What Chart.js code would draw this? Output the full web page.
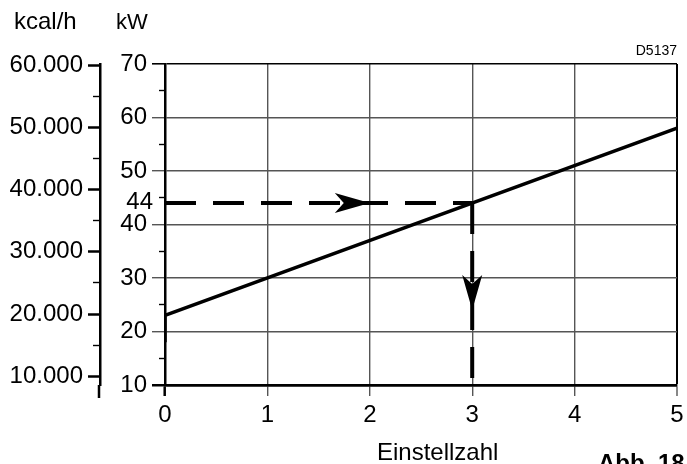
<!DOCTYPE html>
<html lang="de">
<head>
<meta charset="UTF-8">
<title>Einstellzahl</title>
<script src="https://cdn.jsdelivr.net/npm/chart.js@4.4.1/dist/chart.umd.js"></script>
<style>
  html, body { margin: 0; padding: 0; background: #fff; }
  canvas { display: block; }
</style>
</head>
<body>
<canvas id="chart" width="687" height="464"></canvas>
<script>
// kennlinie: einstellzahl -> leistung in kW
const settingNumbers = [0, 0, 5];
const outputKw = [18, 23, 58];

// ablesebeispiel (gestrichelt)
const readoutX = [0, 3];
const readoutY = [44, 44];
const dropX = [3, 3];
const dropY = [44, 10];
const arrowX = [2, 3];
const arrowY = [44, 24];
const arrowDir = ['right', 'down'];

// achsen
const xTicks = [0, 1, 2, 3, 4, 5];
const kwTicks = [10, 20, 30, 40, 50, 60, 70];
const kwMinorTicks = [15, 25, 35, 45, 55, 65];
const kwMarked = 44;
const kcalTicks = [10000, 20000, 30000, 40000, 50000, 60000];
const kcalMinorTicks = [15000, 25000, 35000, 45000, 55000];
const KCAL_PER_KW = 860;
const KW_MIN = 10, KW_MAX = 70;

const FONT = '"Liberation Sans", Arial, sans-serif';
Chart.defaults.font.family = FONT;
Chart.defaults.color = '#000';

const toPoints = (xs, ys) => xs.map((x, i) => ({ x: x, y: ys[i] }));
const tickList = vals => vals.map(v => ({ value: v }));
const fixWidth = w => scale => { scale.width = w; };

const extras = {
  id: 'extras',
  afterDatasetsDraw(chart) {
    const ctx = chart.ctx;
    const x = chart.scales.x, y = chart.scales.y;
    const kcal = chart.scales.kcal;
    ctx.save();
    ctx.fillStyle = '#000';
    ctx.strokeStyle = '#000';

    // pfeilspitzen
    arrowX.forEach((ax, i) => {
      const px = x.getPixelForValue(ax), py = y.getPixelForValue(arrowY[i]);
      ctx.beginPath();
      if (arrowDir[i] === 'right') {
        ctx.moveTo(px, py);
        ctx.lineTo(px - 35, py - 10);
        ctx.lineTo(px - 26, py);
        ctx.lineTo(px - 35, py + 10);
      } else {
        ctx.moveTo(px, py);
        ctx.lineTo(px - 10, py - 35);
        ctx.lineTo(px, py - 26);
        ctx.lineTo(px + 10, py - 35);
      }
      ctx.closePath();
      ctx.fill();
    });

    // kcal achse etwas nach unten verlaengern
    ctx.lineWidth = 2.5;
    ctx.beginPath();
    ctx.moveTo(kcal.right - 1, chart.chartArea.bottom);
    ctx.lineTo(kcal.right - 1, chart.chartArea.bottom + 13);
    ctx.stroke();

    ctx.font = '24px ' + FONT;
    ctx.textAlign = 'right';
    ctx.textBaseline = 'middle';
    ctx.fillText(String(kwMarked), chart.scales.yMinor.right - 12, y.getPixelForValue(kwMarked) - 1);

    // beschriftungen
    ctx.textBaseline = 'alphabetic';
    ctx.textAlign = 'left';
    ctx.fillText('kcal/h', 14, 29);
    ctx.fillText('Einstellzahl', 377, 460);
    ctx.font = '22px ' + FONT;
    ctx.fillText('kW', 116, 29);
    ctx.font = '14px ' + FONT;
    ctx.textAlign = 'right';
    ctx.fillText('D5137', 677, 55);
    ctx.font = 'bold 24px ' + FONT;
    ctx.textAlign = 'left';
    ctx.fillText('Abb. 18', 598, 471);
    ctx.restore();
  }
};

new Chart(document.getElementById('chart'), {
  type: 'line',
  data: {
    datasets: [
      {
        data: toPoints(settingNumbers, outputKw),
        borderColor: '#000',
        borderWidth: 3.5,
        pointRadius: 0,
        tension: 0
      },
      {
        data: toPoints(readoutX, readoutY),
        borderColor: '#000',
        borderWidth: 4,
        borderDash: [31, 17],
        pointRadius: 0
      },
      {
        data: toPoints(dropX, dropY),
        borderColor: '#000',
        borderWidth: 4,
        borderDash: [31, 17],
        pointRadius: 0
      }
    ]
  },
  options: {
    responsive: false,
    animation: false,
    layout: { padding: { top: 64, right: 10, left: 0, bottom: 0 } },
    plugins: { legend: { display: false }, tooltip: { enabled: false } },
    scales: {
      x: {
        type: 'linear',
        min: 0,
        max: 5,
        afterBuildTicks: s => { s.ticks = tickList(xTicks); },
        afterFit: s => { s.height = 79; },
        grid: {
          color: c => (c.tick && c.tick.value === 5) ? '#000' : '#555',
          lineWidth: c => (c.tick && c.tick.value === 5) ? 2 : 1.4,
          tickWidth: c => (c.tick && c.tick.value === 0) ? 2.5 : 1.4,
          tickColor: c => (c.tick && c.tick.value === 0) ? '#000' : '#555',
          tickLength: 11
        },
        border: { display: true, color: '#000', width: 2.5 },
        ticks: { font: { size: 24, lineHeight: 1.35 }, padding: 3, autoSkip: false, maxRotation: 0 }
      },
      y: {
        position: 'left',
        weight: 1,
        min: KW_MIN,
        max: KW_MAX,
        afterBuildTicks: s => { s.ticks = tickList(kwTicks); },
        afterFit: fixWidth(65),
        grid: {
          color: c => (c.tick && (c.tick.value === 10 || c.tick.value === 70)) ? '#000' : '#555',
          lineWidth: c => (c.tick && c.tick.value === 10) ? 2.5 : (c.tick && c.tick.value === 70 ? 1.6 : 1.4),
          tickLength: 13
        },
        border: { display: true, color: '#000', width: 2.5 },
        ticks: { font: { size: 24 }, padding: 5, autoSkip: false }
      },
      yMinor: {
        position: 'left',
        weight: 0,
        min: KW_MIN,
        max: KW_MAX,
        afterBuildTicks: s => { s.ticks = tickList(kwMinorTicks); },
        afterFit: fixWidth(0),
        grid: { drawOnChartArea: false, tickLength: 6, tickWidth: 1.4, tickColor: '#000' },
        border: { display: false },
        ticks: { display: false }
      },
      kcal: {
        position: 'left',
        weight: 3,
        min: KW_MIN * KCAL_PER_KW,
        max: KW_MAX * KCAL_PER_KW,
        afterBuildTicks: s => { s.ticks = tickList(kcalTicks); },
        afterFit: fixWidth(100),
        grid: { drawOnChartArea: false, tickLength: 12, tickWidth: 2.5, tickColor: '#000' },
        border: { display: true, color: '#000', width: 2.5 },
        ticks: {
          font: { size: 24 },
          padding: 5,
          autoSkip: false,
          callback: v => v.toLocaleString('de-DE')
        }
      },
      kcalMinor: {
        position: 'left',
        weight: 2,
        min: KW_MIN * KCAL_PER_KW,
        max: KW_MAX * KCAL_PER_KW,
        afterBuildTicks: s => { s.ticks = tickList(kcalMinorTicks); },
        afterFit: fixWidth(0),
        grid: { drawOnChartArea: false, tickLength: 7, tickWidth: 1.4, tickColor: '#000' },
        border: { display: false },
        ticks: { display: false }
      }
    }
  },
  plugins: [extras]
});
</script>
</body>
</html>
